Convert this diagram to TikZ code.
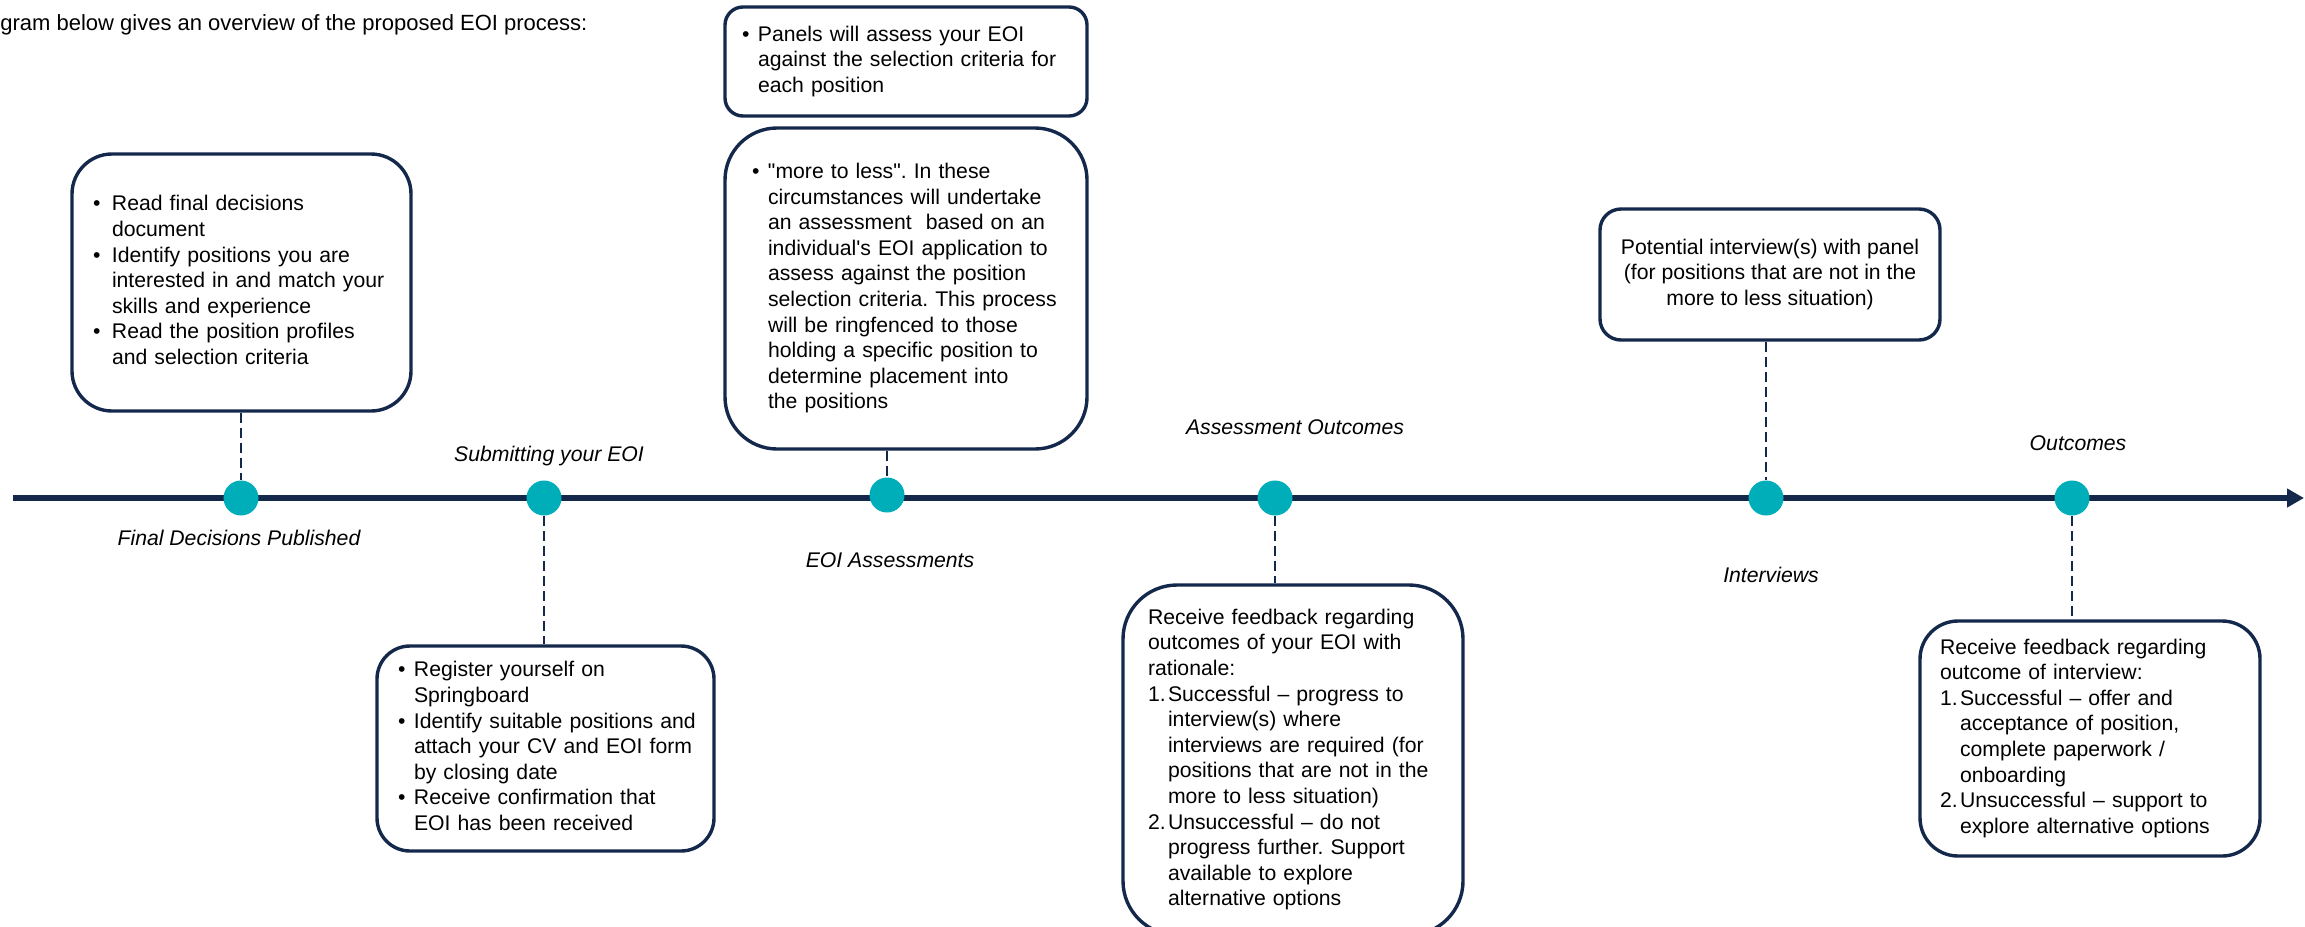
\documentclass[tikz,border=0pt]{standalone}
\usepackage{fontspec}
\setmainfont{Liberation Sans}
\usetikzlibrary{arrows.meta}

\definecolor{navy}{RGB}{20,40,75}
\definecolor{tlteal}{RGB}{0,174,186}

\newcommand{\tlbul}[1][8pt]{\makebox[#1][l]{\textbullet}}
\newcommand{\tlind}[1][8pt]{\hspace*{#1}}
\newcommand{\tlnum}[1]{\makebox[10pt][l]{#1}}
\newcommand{\tlnin}{\hspace*{10pt}}

\tikzset{
	infobox/.style={draw=navy, line width=1.7pt, fill=white, align=left, inner ysep=0pt, font=\fontsize{10.6}{12.8}\selectfont\frenchspacing},
	milestone/.style={circle, fill=tlteal, inner sep=0pt, minimum size=17.5pt},
	dashline/.style={draw=navy, line width=0.85pt, dash pattern=on 5pt off 2.5pt},
	steplabel/.style={font=\fontsize{10.6}{12.8}\selectfont\itshape, anchor=base},
	timeline/.style={draw=navy, line width=2.75pt, -{Triangle[length=8.5pt,width=9pt]}}
}

\begin{document}
\begin{tikzpicture}[x=0.5pt, y=-0.5pt]
					\clip (0,0) rectangle (2305,926);
					% Intro line
					\node[anchor=base west, inner sep=0pt, font=\fontsize{11}{13}\selectfont] (intro) at (0,30) {gram below gives an overview of the proposed EOI process:};
					% Draw the timeline
					\coordinate (tlStart) at (13,498);
					\coordinate (tlEnd) at (2304,498);
					\draw[timeline] (tlStart) -- (tlEnd);
					% Milestones on the line
					\foreach \n/\x/\y in {1/241/498, 2/544/498, 3/887/495, 4/1275/498, 5/1766/498, 6/2072/498}
						\node[milestone] (dot\n) at (\x,\y) {};
					% Milestone labels
					\foreach \n/\x/\y/\t in {1/239/545/Final Decisions Published, 2/549/461/Submitting your EOI, 3/890/567/EOI Assessments, 4/1295/434/Assessment Outcomes, 5/1771/582/Interviews, 6/2078/450/Outcomes}
						\node[steplabel] (lab\n) at (\x,\y) {\t};
					% Boxes above the line
					\node[infobox, rounded corners=20pt, minimum height=128.5pt, text width=148.5pt, inner xsep=10.5pt] (boxRead) at (241.5,282.5) {\begin{tabular}{@{}l@{}}
						\tlbul[9.5pt]Read final decisions\\ \tlind[9.5pt]document\\
						\tlbul[9.5pt]Identify positions you are\\ \tlind[9.5pt]interested in and match your\\ \tlind[9.5pt]skills and experience\\
						\tlbul[9.5pt]Read the position profiles\\ \tlind[9.5pt]and selection criteria\end{tabular}};
					\node[infobox, rounded corners=9pt, minimum height=54.5pt, text width=164pt, inner xsep=8.5pt] (boxPanel) at (906,61.5) {\begin{tabular}{@{}l@{}}
						\tlbul Panels will assess your EOI\\ \tlind against the selection criteria for\\ \tlind each position\end{tabular}};
					\node[infobox, rounded corners=26pt, minimum height=160.5pt, text width=154pt, inner xsep=13.5pt] (boxAssess) at (906,288.5) {\begin{tabular}{@{}l@{}}
						\tlbul \textquotedbl more to less\textquotedbl. In these\\ \tlind circumstances will undertake\\ \tlind an assessment~ based on an\\ \tlind individual\textquotesingle s EOI application to\\ \tlind assess against the position\\
						\tlind selection criteria. This process\\ \tlind will be ringfenced to those\\ \tlind holding a specific position to\\ \tlind determine placement into\\ \tlind the positions\end{tabular}};
					\node[infobox, align=center, rounded corners=10.5pt, minimum width=170pt, minimum height=65.5pt] (boxInterview) at (1770,274.5) {\begin{tabular}{@{}c@{}}
						Potential interview(s) with panel\\ (for positions that are not in the\\ more to less situation)\end{tabular}};
					% Boxes below the line
					\node[infobox, rounded corners=16.5pt, minimum height=102.5pt, text width=147.5pt, inner xsep=10.5pt] (boxSubmit) at (545.5,748.5) {\begin{tabular}{@{}l@{}}
						\tlbul Register yourself on\\ \tlind Springboard\\
						\tlbul Identify suitable positions and\\ \tlind attach your CV and EOI form\\ \tlind by closing date\\
						\tlbul Receive confirmation that\\ \tlind EOI has been received\end{tabular}};
					\node[infobox, rounded corners=27pt, minimum height=175pt, text width=145pt, inner xsep=12.5pt] (boxResult) at (1293,760) {\begin{tabular}{@{}l@{}}
						Receive feedback regarding\\ outcomes of your EOI with\\ rationale:\\
						\tlnum{1.}Successful -- progress to\\ \tlnin interview(s) where\\ \tlnin interviews are required (for\\ \tlnin positions that are not in the\\ \tlnin more to less situation)\\
						\tlnum{2.}Unsuccessful -- do not\\ \tlnin progress further. Support\\ \tlnin available to explore\\ \tlnin alternative options\end{tabular}};
					\node[infobox, rounded corners=19pt, minimum height=117.5pt, text width=150pt, inner xsep=10pt] (boxOffer) at (2090,738.5) {\begin{tabular}{@{}l@{}}
						Receive feedback regarding\\ outcome of interview:\\
						\tlnum{1.}Successful -- offer and\\ \tlnin acceptance of position,\\ \tlnin complete paperwork /\\ \tlnin onboarding\\
						\tlnum{2.}Unsuccessful -- support to\\ \tlnin explore alternative options\end{tabular}};
					% Dashed connectors
					\foreach \d/\b in {dot1/boxRead, dot3/boxAssess, dot5/boxInterview}
						\draw[dashline] (\b.south -| \d) -- (\d.north);
					\foreach \d/\b in {dot2/boxSubmit, dot4/boxResult, dot6/boxOffer}
						\draw[dashline] (\d.south) -- (\b.north -| \d);
				\end{tikzpicture}
\end{document}
